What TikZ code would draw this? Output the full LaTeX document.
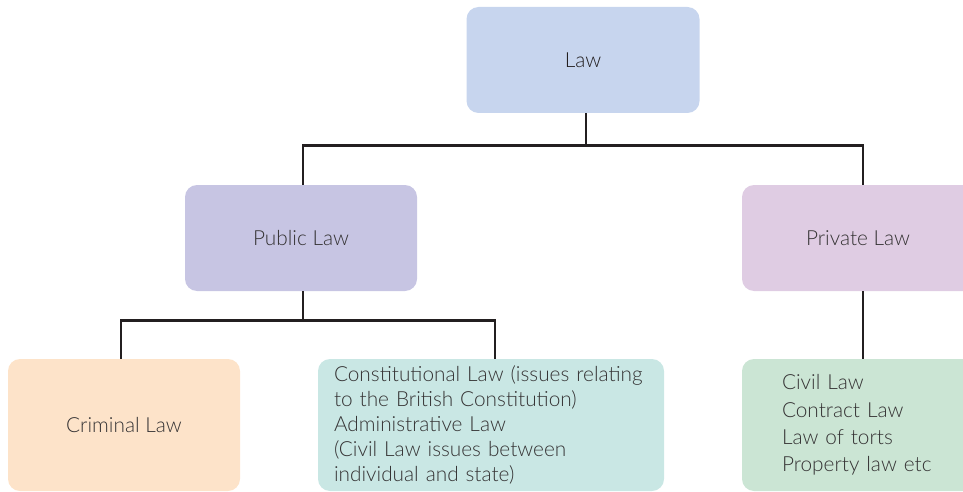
\documentclass[tikz,border=0pt]{standalone}
\usepackage{fontspec}
\setmainfont{Lato}[UprightFont={* Light}]
\usetikzlibrary{calc}
\definecolor{lawc}{HTML}{C7D5EE}
\definecolor{pubc}{HTML}{C7C5E3}
\definecolor{privc}{HTML}{DFCCE3}
\definecolor{crimc}{HTML}{FDE3C9}
\definecolor{constc}{HTML}{C9E7E4}
\definecolor{civc}{HTML}{CBE5D4}
\definecolor{linec}{HTML}{231F20}
\definecolor{txtc}{HTML}{353334}
\tikzset{
  box/.style={rounded corners=12pt, inner sep=0pt, text=txtc, font=\fontsize{20.8}{25.2}\selectfont},
  conn/.style={draw=linec, line width=2.8pt}
}
\begin{document}
\begin{tikzpicture}[x=1pt,y=-1pt]
\useasboundingbox (0,0) rectangle (963,492);
\clip (0,0) rectangle (963,492);
\node[box, fill=lawc, minimum width=233pt, minimum height=106pt, text=linec] (law) at (583,60) {Law};
\node[box, fill=pubc, minimum width=232pt, minimum height=106pt] (pub) at (301,238) {Public Law};
\node[box, fill=privc, minimum width=242pt, minimum height=106pt] (priv) at (863,238) {\hspace*{-10pt}Private Law};
\node[box, fill=crimc, minimum width=232pt, minimum height=132pt] (crim) at (124,425) {Criminal Law};
\node[box, fill=constc, minimum width=346pt, minimum height=132pt, text width=314pt, inner xsep=16pt, align=left] (const) at (491,425)
  {Constitutional Law (issues relating\\to the British Constitution)\\Administrative Law\\(Civil Law issues between\\individual and state)};
\node[box, fill=civc, minimum width=242pt, minimum height=132pt, text width=162pt, inner xsep=40pt, align=left, font=\fontsize{20.8}{27.2}\selectfont] (civ) at (863,425)
  {Civil Law\\Contract Law\\Law of torts\\Property law etc};
\coordinate (j1) at ($(law.south)+(3,32)$);
\coordinate (j2) at ($(pub.south)+(2,29)$);
\draw[conn] ($(law.south)+(3,0)$) -- (j1);
\draw[conn] ($(pub.north)+(2,0)$) |- (j1) -| (priv.north);
\draw[conn] ($(pub.south)+(2,0)$) -- (j2);
\draw[conn] ($(crim.north)+(-3,0)$) |- (j2) -| ($(const.north)+(4,0)$);
\draw[conn] (priv.south) -- (civ.north);
\end{tikzpicture}
\end{document}
